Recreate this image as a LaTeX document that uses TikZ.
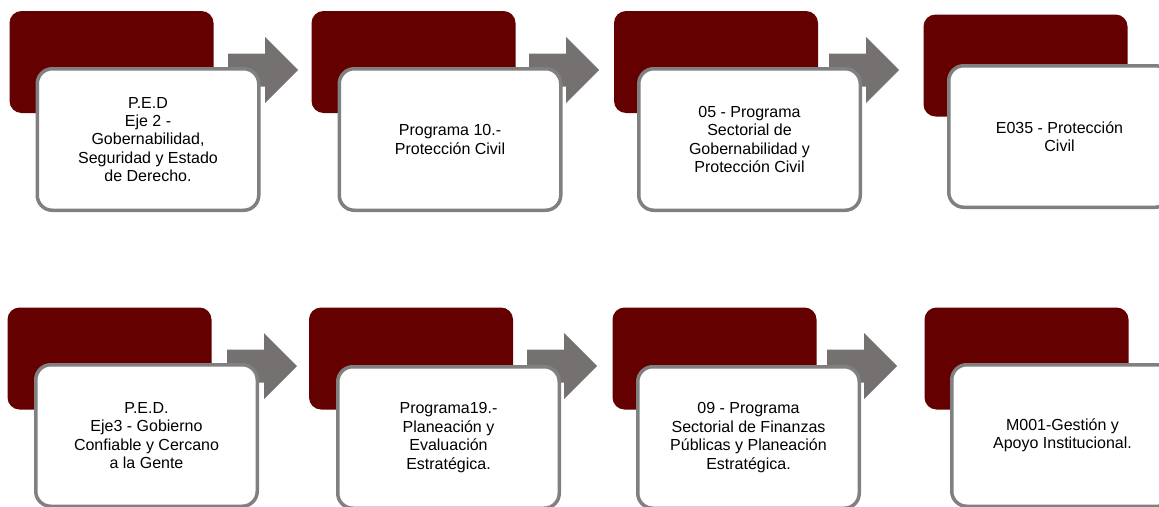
\documentclass[tikz,border=0pt]{standalone}
\usepackage{fontspec}
\setmainfont{Liberation Sans}
\usepackage{tikz}
\definecolor{vino}{HTML}{640000}
\definecolor{grisflecha}{HTML}{767171}
\definecolor{grisborde}{HTML}{808080}
\tikzset{
    fondo/.style={
           rectangle, rounded corners=12pt,
           fill=vino,
           minimum width=204pt, minimum height=102pt,
           inner sep=0pt,
           },
}
\tikzset{
    caja/.style={
           rectangle, rounded corners=15pt,
           draw=grisborde, line width=3.5pt,
           fill=white,
           minimum width=221.5pt, minimum height=141.5pt,
           inner sep=0pt,
           align=center,
           font=\fontsize{16}{18.4}\selectfont,
           },
}
\tikzset{
    flecha/.style={fill=grisflecha},
}
% block arrow: #1 = coordinate at the tail, middle height
\newcommand{\flecha}[1]{\fill[flecha] (#1) ++(0,-16.5) -- ++(37,0) -- ++(0,-16.5) -- ++(33,33) -- ++(-33,33) -- ++(0,-16.5) -- ++(-37,0) -- cycle;}

\begin{document}
\begin{tikzpicture}[x=1pt,y=-1pt]
\useasboundingbox (0,0) rectangle (1159,506);
\clip (0,0) rectangle (1159,506);
% fila superior
\node[fondo](f1) at (111.5,62){};
\node[fondo](f2) at (413.5,62){};
\node[fondo](f3) at (716,62){};
\node[fondo](f4) at (1025.5,65.5){};
\coordinate (a1) at (228,70);
\coordinate (a2) at (529,70);
\coordinate (a3) at (829,70);
\flecha{a1}
\flecha{a2}
\flecha{a3}
\node[caja](c1) at (148,139.5){P.E.D\\Eje 2 -\\Gobernabilidad,\\Seguridad y Estado\\de Derecho.};
\node[caja](c2) at (450,139.5){Programa 10.-\\Protección Civil};
\node[caja](c3) at (749.5,139.5){05 - Programa\\Sectorial de\\Gobernabilidad y\\Protección Civil};
\node[caja](c4) at (1059.5,136.5){E035 - Protección\\Civil};
% fila inferior
\node[fondo](f5) at (109.5,358.5){};
\node[fondo](f6) at (411,358.5){};
\node[fondo](f7) at (714.5,358.5){};
\node[fondo](f8) at (1026.5,358.5){};
\coordinate (a5) at (227,366);
\coordinate (a6) at (527,366);
\coordinate (a7) at (827,366);
\flecha{a5}
\flecha{a6}
\flecha{a7}
\node[caja](c5) at (146.5,435.5){P.E.D.\\Eje3 - Gobierno\\Confiable y Cercano\\a la Gente};
\node[caja](c6) at (448.5,437.5){Programa19.-\\Planeación y\\Evaluación\\Estratégica.};
\node[caja](c7) at (748.5,437.5){09 - Programa\\Sectorial de Finanzas\\Públicas y Planeación\\Estratégica.};
\node[caja](c8) at (1062.5,435.5){M001-Gestión y\\Apoyo Institucional.};
\end{tikzpicture}
\end{document}
